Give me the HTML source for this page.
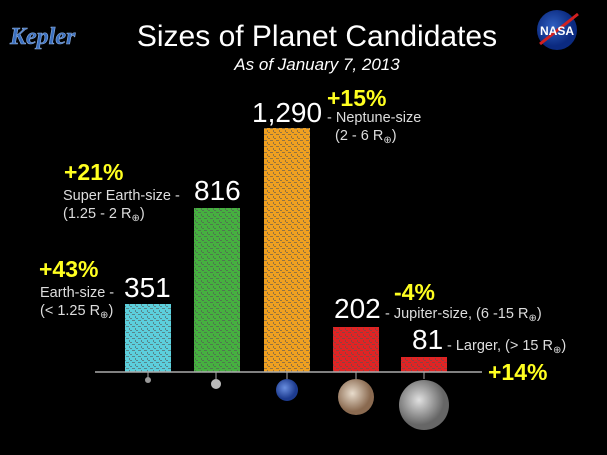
<!DOCTYPE html>
<html><head><meta charset="utf-8"><style>
html,body{margin:0;padding:0;background:#000;}
svg{display:block;}
text{font-family:"Liberation Sans",sans-serif;}
</style></head><body>
<svg width="607" height="455" viewBox="0 0 607 455" xmlns="http://www.w3.org/2000/svg">
<defs>
<pattern id="p" width="6" height="6" patternUnits="userSpaceOnUse">
<rect x="0" y="2" width="3" height="1" fill="#555" opacity="0.6"/>
<rect x="3" y="4" width="1" height="2" fill="#555" opacity="0.6"/>
<rect x="4" y="0" width="2" height="1" fill="#555" opacity="0.6"/>
</pattern>
<radialGradient id="nep" cx="40%" cy="40%"><stop offset="0" stop-color="#6a8fe0"/><stop offset="1" stop-color="#1d3b8f"/></radialGradient>
<radialGradient id="jup" cx="40%" cy="40%"><stop offset="0" stop-color="#e8dccc"/><stop offset="1" stop-color="#8a6a50"/></radialGradient>
<radialGradient id="big" cx="40%" cy="40%"><stop offset="0" stop-color="#e0e0e0"/><stop offset="1" stop-color="#666"/></radialGradient>
<radialGradient id="nasa" cx="40%" cy="40%"><stop offset="0" stop-color="#2f5fc0"/><stop offset="1" stop-color="#0b2a80"/></radialGradient>
</defs>
<rect width="607" height="455" fill="#000"/>
<text x="10" y="44" style="font-family:'Liberation Serif',serif;font-style:italic;font-weight:bold" font-size="24" fill="#3a6fc0" stroke="#8fb0e0" stroke-width="0.6">Kepler</text>
<circle cx="557" cy="30" r="20" fill="url(#nasa)"/>
<path d="M540 44 L578 14" stroke="#d02020" stroke-width="3"/>
<text x="557" y="35" text-anchor="middle" font-weight="bold" font-size="12" fill="#fff">NASA</text>
<text x="317" y="46" text-anchor="middle" font-size="30" fill="#fff">Sizes of Planet Candidates</text>
<text x="317" y="70" text-anchor="middle" font-size="17" font-style="italic" fill="#fff">As of January 7, 2013</text>
<rect x="125" y="304" width="46" height="68" fill="#5ccfdc"/><rect x="125" y="304" width="46" height="68" fill="url(#p)"/>
<rect x="194" y="208" width="46" height="164" fill="#46b040"/><rect x="194" y="208" width="46" height="164" fill="url(#p)"/>
<rect x="264" y="128" width="46" height="244" fill="#f0a020"/><rect x="264" y="128" width="46" height="244" fill="url(#p)"/>
<rect x="333" y="327" width="46" height="45" fill="#e02424"/><rect x="333" y="327" width="46" height="45" fill="url(#p)"/>
<rect x="401" y="357" width="46" height="15" fill="#e02424"/><rect x="401" y="357" width="46" height="15" fill="url(#p)"/>
<line x1="95" y1="372" x2="482" y2="372" stroke="#aaa" stroke-width="1.5"/>
<g stroke="#aaa" stroke-width="1"><line x1="148" y1="372" x2="148" y2="378"/><line x1="216" y1="372" x2="216" y2="379"/><line x1="287" y1="372" x2="287" y2="379"/><line x1="356" y1="372" x2="356" y2="379"/><line x1="424" y1="372" x2="424" y2="379"/></g>
<circle cx="148" cy="380" r="3" fill="#999"/>
<circle cx="216" cy="384" r="5" fill="#bbb"/>
<circle cx="287" cy="390" r="11" fill="url(#nep)"/>
<circle cx="356" cy="397" r="18" fill="url(#jup)"/>
<circle cx="424" cy="405" r="25" fill="url(#big)"/>
<g fill="#ffff20" font-weight="bold" font-size="23">
<text x="327" y="106">+15%</text>
<text x="64" y="180">+21%</text>
<text x="39" y="277">+43%</text>
<text x="394" y="300">-4%</text>
<text x="488" y="380">+14%</text>
</g>
<g fill="#fff" font-size="28">
<text x="252" y="122">1,290</text>
<text x="194" y="200">816</text>
<text x="124" y="297">351</text>
<text x="334" y="318">202</text>
<text x="412" y="349">81</text>
</g>
<g fill="#ddd" font-size="14.5">
<text x="327" y="122">- Neptune-size</text>
<text x="335" y="140">(2 - 6 R<tspan font-size="10" dy="3">⊕</tspan><tspan dy="-3">)</tspan></text>
<text x="63" y="200">Super Earth-size -</text>
<text x="63" y="218">(1.25 - 2 R<tspan font-size="10" dy="3">⊕</tspan><tspan dy="-3">)</tspan></text>
<text x="40" y="297">Earth-size -</text>
<text x="40" y="315">(&lt; 1.25 R<tspan font-size="10" dy="3">⊕</tspan><tspan dy="-3">)</tspan></text>
<text x="385" y="318">- Jupiter-size, (6 -15 R<tspan font-size="10" dy="3">⊕</tspan><tspan dy="-3">)</tspan></text>
<text x="447" y="350">- Larger, (&gt; 15 R<tspan font-size="10" dy="3">⊕</tspan><tspan dy="-3">)</tspan></text>
</g>
</svg>
</body></html>
